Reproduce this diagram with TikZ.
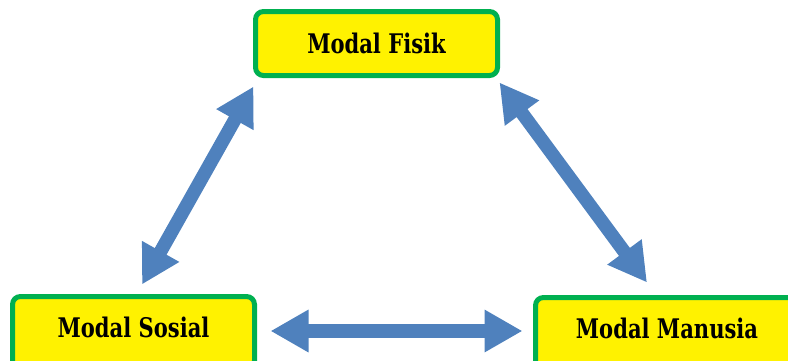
\documentclass[tikz,border=0pt]{standalone}
\usepackage{fontspec}
\setmainfont{DejaVu Serif}[FakeStretch=0.78]
\usepackage{tikz}
\usetikzlibrary{arrows.meta,calc,positioning}

\definecolor{boxgreen}{HTML}{00B050}
\definecolor{arrowblue}{HTML}{4F81BD}

\begin{document}
\begin{tikzpicture}[
    modalbox/.style={draw=boxgreen,fill=yellow,line width=5pt,rounded corners=8pt,
      minimum height=64pt,inner sep=0pt,font=\fontsize{27}{30}\selectfont\bfseries},
    lowbox/.style={modalbox,minimum height=72pt,text depth=10pt},
    bigarrow/.style={arrowblue,line width=13.5pt,
      {Triangle[length=38pt,width=40pt]}-{Triangle[length=38pt,width=40pt]}}
  ]
    \useasboundingbox (0,0) rectangle (788pt,-360pt);
    \clip (0,0) rectangle (788pt,-360pt);
    \node[modalbox,minimum width=242pt] (fisik) at (376.5pt,-43.5pt) {Modal Fisik};
    \node[lowbox,minimum width=242pt] (sosial) at (133.5pt,-332.5pt) {Modal Sosial};
    \node[lowbox,minimum width=263pt] (manusia) at (667pt,-333.5pt) {Modal Manusia};
    \draw[bigarrow] ([shift={(8.5pt,9.5pt)}]sosial.north)
      -- ([shift={(0.5pt,-8.5pt)}]fisik.south west);
    \draw[bigarrow] ([shift={(-0.5pt,-4.5pt)}]fisik.south east)
      -- ([shift={(-20pt,12.5pt)}]manusia.north);
    \draw[bigarrow] ([shift={(13.5pt,1.5pt)}]sosial.east)
      -- ([shift={(-10.5pt,2.5pt)}]manusia.west);
  \end{tikzpicture}
\end{document}
